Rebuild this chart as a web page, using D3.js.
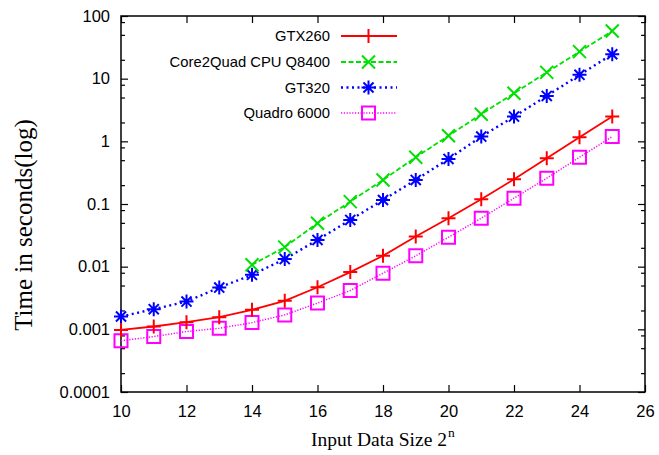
<!DOCTYPE html>
<html>
<head>
<meta charset="utf-8">
<script src="https://cdn.jsdelivr.net/npm/d3@7"></script>
<style>
  body { margin: 0; background: #fff; }
  svg { display: block; }
</style>
</head>
<body>
<div id="wrapper"></div>
<script>
// data (seconds, log scale)
const sizes = [10, 11, 12, 13, 14, 15, 16, 17, 18, 19, 20, 21, 22, 23, 24, 25];
const cpuSizes = [14, 15, 16, 17, 18, 19, 20, 21, 22, 23, 24, 25];
const gtx260 = [0.00098, 0.00111, 0.0013, 0.00156, 0.00205, 0.00285, 0.0047, 0.0082, 0.0149, 0.0303, 0.0593, 0.119, 0.248, 0.537, 1.16, 2.48];
const core2Quad = [0.0107, 0.0205, 0.0494, 0.109, 0.242, 0.557, 1.23, 2.71, 5.85, 12.6, 27, 57.6];
const gt320 = [0.0016, 0.0021, 0.00277, 0.00464, 0.0074, 0.0132, 0.0267, 0.0557, 0.116, 0.242, 0.524, 1.19, 2.48, 5.3, 11.5, 24.5];
const quadro6000 = [0.000656, 0.000767, 0.000922, 0.00104, 0.00128, 0.0017, 0.00262, 0.00416, 0.00787, 0.0149, 0.0295, 0.0593, 0.124, 0.258, 0.557, 1.19];

const seriesNames = ["GTX260", "Core2Quad CPU Q8400", "GT320", "Quadro 6000"];
const xTicks = [10, 12, 14, 16, 18, 20, 22, 24, 26];
const yTicks = [0.0001, 0.001, 0.01, 0.1, 1, 10, 100];
const yTickLabels = ["0.0001", "0.001", "0.01", "0.1", "1", "10", "100"];

const dimension = {
    width: 659,
    height: 455,
    margin: { top: 16, left: 121, bottom: 63, right: 14 }
};
dimension.boundedWidth = dimension.width - dimension.margin.left - dimension.margin.right;
dimension.boundedHeight = dimension.height - dimension.margin.top - dimension.margin.bottom;

const svg = d3.select("#wrapper")
    .append("svg")
    .attr("width", dimension.width)
    .attr("height", dimension.height);

const bounds = svg.append("g")
    .attr("transform", `translate(${dimension.margin.left},${dimension.margin.top})`);

const xScaler = d3.scaleLinear()
    .domain([10, 26])
    .range([0, dimension.boundedWidth]);

const yScaler = d3.scaleLog()
    .domain([0.0001, 100])
    .range([dimension.boundedHeight, 0]);

// minor ticks at 2, 5, 8 of each decade
const yMinor = [];
yTicks.slice(0, -1).forEach(t => [2, 5, 8].forEach(m => yMinor.push(t * m)));

const tickFont = "'Liberation Sans', Arial, sans-serif";

// axes, all ticks pointing inward
const yAxis = bounds.append("g")
    .call(d3.axisLeft(yScaler).tickValues(yTicks).tickSize(-7).tickPadding(11)
        .tickFormat((d, i) => yTickLabels[i]));
bounds.append("g")
    .call(d3.axisLeft(yScaler).tickValues(yMinor).tickSize(-4).tickFormat(""));
bounds.append("g")
    .attr("transform", `translate(${dimension.boundedWidth},0)`)
    .call(d3.axisRight(yScaler).tickValues(yTicks).tickSize(-7).tickFormat(""));
bounds.append("g")
    .attr("transform", `translate(${dimension.boundedWidth},0)`)
    .call(d3.axisRight(yScaler).tickValues(yMinor).tickSize(-4).tickFormat(""));

const xAxis = bounds.append("g")
    .attr("transform", `translate(0,${dimension.boundedHeight})`)
    .call(d3.axisBottom(xScaler).tickValues(xTicks).tickSize(-7).tickPadding(13)
        .tickFormat(d3.format("d")));
bounds.append("g")
    .call(d3.axisTop(xScaler).tickValues(xTicks).tickSize(-7).tickFormat(""));

bounds.selectAll(".domain").remove();
bounds.selectAll(".tick line").attr("stroke", "#000").attr("stroke-width", 1.2);
bounds.selectAll(".tick text")
    .attr("fill", "#000")
    .style("font-family", tickFont)
    .style("font-size", "16.5px");

// frame
bounds.append("rect")
    .attr("width", dimension.boundedWidth)
    .attr("height", dimension.boundedHeight)
    .attr("fill", "none")
    .attr("stroke", "#000")
    .attr("stroke-width", 1.5);

// marker shapes
const markers = {
    plus: r => `M${-r},0H${r}M0,${-r}V${r}`,
    cross: r => `M${-r},${-r}L${r},${r}M${-r},${r}L${r},${-r}`,
    star: r => {
        const k = r * 0.72;
        return `M${-r},0H${r}M0,${-r}V${r}M${-k},${-k}L${k},${k}M${-k},${k}L${k},${-k}`;
    },
    square: r => `M${-r},${-r}H${r}V${r}H${-r}Z`
};

const series = [
    { name: seriesNames[0], xs: sizes, ys: gtx260, color: "#ff0000", dash: null, width: 1.8, marker: "plus", r: 7 },
    { name: seriesNames[1], xs: cpuSizes, ys: core2Quad, color: "#00e000", dash: "5,2.5", width: 1.8, marker: "cross", r: 6.5 },
    { name: seriesNames[2], xs: sizes, ys: gt320, color: "#0000ff", dash: "2,3.5", width: 2.4, marker: "star", r: 7 },
    { name: seriesNames[3], xs: sizes, ys: quadro6000, color: "#ff00ff", dash: "1.2,1.6", width: 1.5, marker: "square", r: 6.5 }
];

const lineGen = d3.line()
    .x(d => xScaler(d[0]))
    .y(d => yScaler(d[1]));

const plot = bounds.append("g");
series.slice().reverse().forEach(s => {
    const pts = s.xs.map((x, i) => [x, s.ys[i]]);
    const g = plot.append("g");
    g.append("path")
        .attr("d", lineGen(pts))
        .attr("fill", "none")
        .attr("stroke", s.color)
        .attr("stroke-width", s.width)
        .attr("stroke-dasharray", s.dash);
    g.selectAll("path.mark")
        .data(pts)
        .enter()
        .append("path")
        .attr("class", "mark")
        .attr("transform", d => `translate(${xScaler(d[0])},${yScaler(d[1])})`)
        .attr("d", markers[s.marker](s.r))
        .attr("fill", "none")
        .attr("stroke", s.color)
        .attr("stroke-width", 2);
});

// legend
const legend = svg.append("g");
const legendY = [36, 62, 87.5, 113];
series.forEach((s, i) => {
    const row = legend.append("g").attr("transform", `translate(0,${legendY[i]})`);
    row.append("text")
        .attr("x", 330)
        .attr("y", 0)
        .attr("dy", "0.35em")
        .attr("text-anchor", "end")
        .style("font-family", tickFont)
        .style("font-size", "14.8px")
        .text(s.name);
    row.append("line")
        .attr("x1", 341)
        .attr("x2", 397)
        .attr("stroke", s.color)
        .attr("stroke-width", s.width)
        .attr("stroke-dasharray", s.dash);
    row.append("path")
        .attr("transform", "translate(368.5,0)")
        .attr("d", markers[s.marker](s.r))
        .attr("fill", "none")
        .attr("stroke", s.color)
        .attr("stroke-width", 2);
});

// axis titles
const xLabel = svg.append("text")
    .attr("x", 311)
    .attr("y", 445.5)
    .style("font-family", "'Liberation Serif', 'Times New Roman', serif")
    .style("font-size", "19.5px")
    .attr("fill", "#000");
xLabel.append("tspan").text("Input Data Size 2");
xLabel.append("tspan")
    .attr("dy", -9)
    .attr("dx", 1)
    .style("font-size", "13.5px")
    .text("n");

svg.append("text")
    .attr("transform", "translate(32,225) rotate(-90)")
    .attr("text-anchor", "middle")
    .style("font-family", "'Liberation Serif', 'Times New Roman', serif")
    .style("font-size", "25px")
    .attr("fill", "#000")
    .text("Time in seconds(log)");
</script>
</body>
</html>
